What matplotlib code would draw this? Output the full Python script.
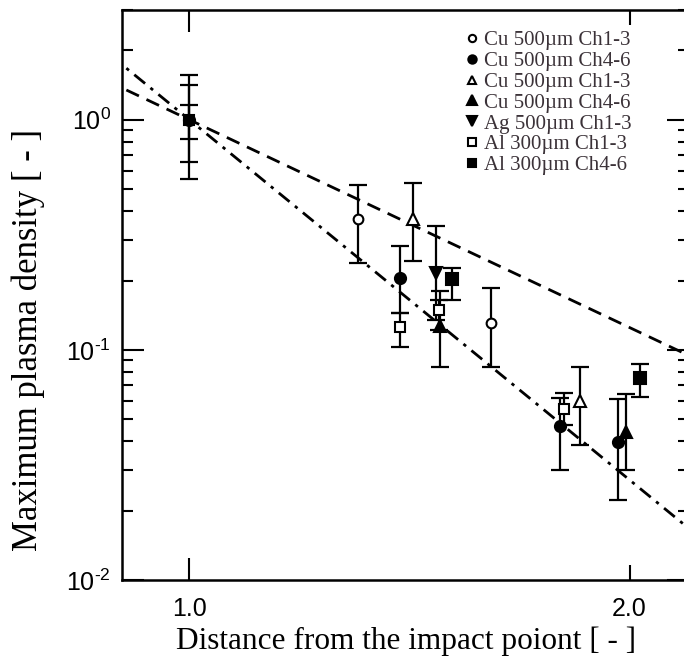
"""
Maximum plasma density against distance from the impact point
"""

import numpy as np
import matplotlib
matplotlib.use("Agg")
from matplotlib import pyplot as plt
from matplotlib.ticker import FixedLocator, FixedFormatter

plt.rcParams['font.family'] = ['Liberation Sans', 'DejaVu Sans']
plt.rcParams['mathtext.fontset'] = 'custom'
plt.rcParams['mathtext.rm'] = 'Liberation Sans'
plt.rcParams['mathtext.it'] = 'Liberation Sans:italic'
plt.rcParams['axes.unicode_minus'] = False

# distance normalised to the first probe, density normalised to its value there
cu13_x = [1.0, 1.305, 1.609]
cu13_y = [1.0, 0.371, 0.131]
cu13_lo = [0.657, 0.239, 0.0843]
cu13_hi = [1.42, 0.521, 0.186]

cu46_x = [1.0, 1.394, 1.794, 1.963]
cu46_y = [1.0, 0.206, 0.0468, 0.0398]
cu46_lo = [0.554, 0.145, 0.0301, 0.0223]
cu46_hi = [1.57, 0.283, 0.062, 0.0612]

cu13b_x = [1.423, 1.851]
cu13b_y = [0.371, 0.060]
cu13b_lo = [0.244, 0.0386]
cu13b_hi = [0.533, 0.0843]

cu46b_x = [1.485, 1.988]
cu46b_y = [0.127, 0.044]
cu46b_lo = [0.0843, 0.030]
cu46b_hi = [0.181, 0.0644]

ag13_x = [1.474]
ag13_y = [0.216]
ag13_lo = [0.135]
ag13_hi = [0.346]

al13_x = [1.0, 1.394, 1.481, 1.805]
al13_y = [1.0, 0.126, 0.149, 0.0554]
al13_lo = [0.827, 0.103, 0.122, 0.047]
al13_hi = [1.16, 0.145, 0.165, 0.065]

al46_x = [1.513, 2.032]
al46_y = [0.204, 0.0756]
al46_lo = [0.165, 0.0625]
al46_hi = [0.227, 0.0869]

labels = ["Cu 500\u00b5m Ch1-3", "Cu 500\u00b5m Ch4-6", "Cu 500\u00b5m Ch1-3",
          "Cu 500\u00b5m Ch4-6", "Ag 500\u00b5m Ch1-3", "Al 300\u00b5m Ch1-3",
          "Al 300\u00b5m Ch4-6"]

y_ticks = [0.01, 0.1, 1.0]
y_ticklabels = [r'$10^{\text{-}2}$', r'$10^{\text{-}1}$', r'$10^{0}$']

# power law fits  y = A * x^-n
fit_dash = (1.0, 3.0)
fit_dashdot = (1.0, 5.2)

series = [
    (cu13_x, cu13_y, cu13_lo, cu13_hi, 'o', False, 7),
    (cu46_x, cu46_y, cu46_lo, cu46_hi, 'o', True, 8),
    (cu13b_x, cu13b_y, cu13b_lo, cu13b_hi, '^', False, 8),
    (cu46b_x, cu46b_y, cu46b_lo, cu46b_hi, '^', True, 9),
    (ag13_x, ag13_y, ag13_lo, ag13_hi, 'v', True, 9),
    (al13_x, al13_y, al13_lo, al13_hi, 's', False, 7),
    (al46_x, al46_y, al46_lo, al46_hi, 's', True, 8),
]

fig = plt.figure(figsize=(6.84, 6.65), dpi=100)
ax = fig.add_axes([0.178, 0.128, 0.83, 0.857])

xx = np.linspace(0.85, 2.3, 200)
ax.plot(xx, fit_dash[0] * xx ** -fit_dash[1], color='black', lw=2.0,
        linestyle=(0, (5, 3)), zorder=1)
ax.plot(xx, fit_dashdot[0] * xx ** -fit_dashdot[1], color='black', lw=2.0,
        linestyle=(0, (5, 2.5, 1.2, 2.5)), zorder=1)

for (x, y, lo, hi, marker, filled, ms), label in zip(series, labels):
    x = np.array(x)
    y = np.array(y)
    yerr = [y - np.array(lo), np.array(hi) - y]
    ax.errorbar(x, y, yerr=yerr, fmt='none', ecolor='black', elinewidth=1.6,
                capsize=6.5, capthick=1.6, zorder=2)
    ax.plot(x, y, linestyle='none', marker=marker, ms=ms,
            mfc='black' if filled else 'white', mec='black', mew=1.5,
            label=label, zorder=4 if filled else 3)

ax.set_xscale('log')
ax.set_yscale('log')
ax.set_xlim(0.899, 2.198)
ax.set_ylim(0.01, 3.0)

ax.xaxis.set_major_locator(FixedLocator([1.0]))
ax.xaxis.set_major_formatter(FixedFormatter(['1.0']))
ax.xaxis.set_minor_locator(FixedLocator([2.0]))
ax.xaxis.set_minor_formatter(FixedFormatter(['2.0']))
ax.yaxis.set_major_locator(FixedLocator(y_ticks))
ax.yaxis.set_major_formatter(FixedFormatter(y_ticklabels))

for side in ax.spines.values():
    side.set_linewidth(1.8)
ax.tick_params(which='both', direction='in', top=True, right=True, width=1.5,
               labelsize=18, pad=8)
ax.tick_params(which='major', length=16)
ax.tick_params(which='minor', length=8)
ax.tick_params(axis='x', which='minor', length=11)
ax.tick_params(axis='x', which='both', pad=12)

ax.set_xlabel('Distance from the impact poiont [ - ]', family='Liberation Serif',
              fontsize=22.5, labelpad=4)
ax.set_ylabel('Maximum plasma density [ - ]', family='Liberation Serif',
              fontsize=25)
ax.yaxis.set_label_coords(-0.135, 0.421)

leg = ax.legend(loc='upper left', bbox_to_anchor=(0.587, 0.982), frameon=False,
                prop={'family': 'Liberation Serif', 'size': 15},
                handlelength=0.6, handletextpad=0.3, labelspacing=0.06,
                borderpad=0, markerscale=0.75)
for t in leg.get_texts():
    t.set_color('#3b3238')

fig.savefig('out.png', dpi=100)
